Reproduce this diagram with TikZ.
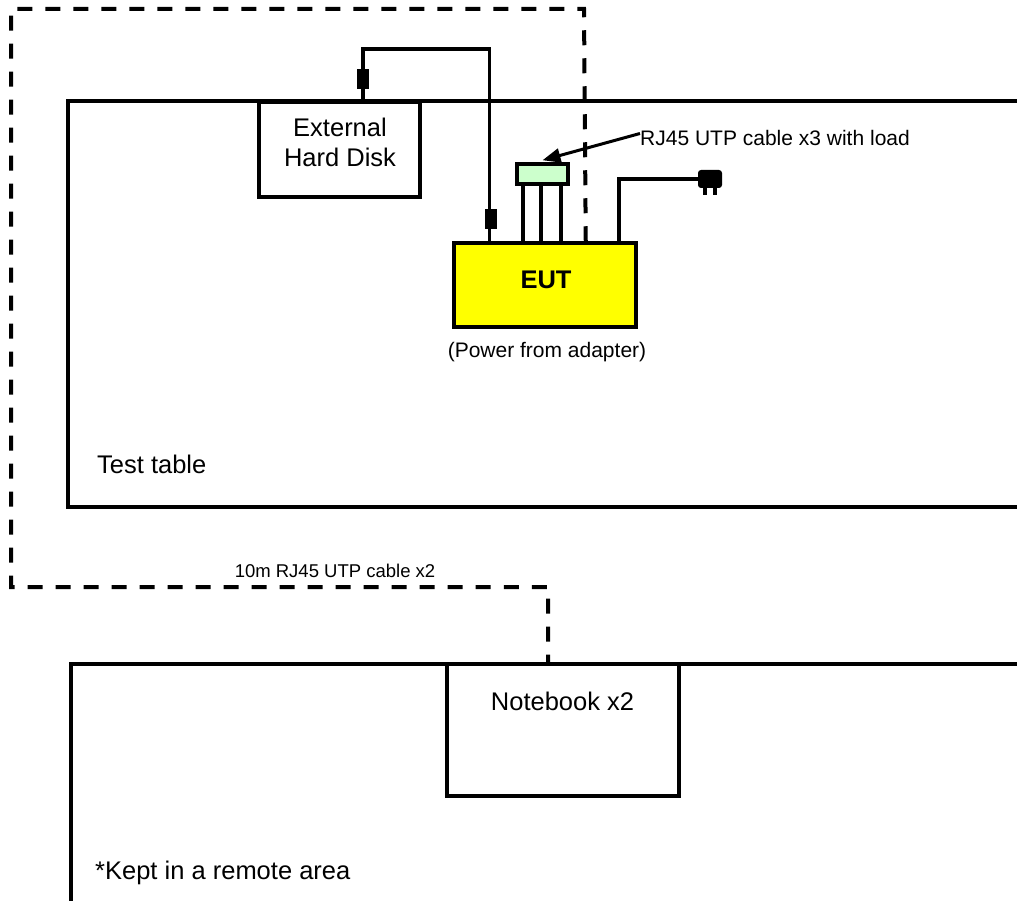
\documentclass[tikz,border=0pt]{standalone}
\usepackage{fontspec}
\setmainfont{Liberation Sans}
\usetikzlibrary{arrows.meta, positioning}
\definecolor{eutyellow}{HTML}{FFFF00}
\definecolor{loadgreen}{HTML}{CCFFCC}
\newcommand{\bigtxt}{\fontsize{25.5}{30}\selectfont}
\newcommand{\midtxt}{\fontsize{21}{25}\selectfont}
\newcommand{\lowtxt}{\fontsize{18.5}{22}\selectfont}
\tikzset{
	devbox/.style={draw, line width=3.5pt, inner sep=0pt}
}
\tikzset{
	cable/.style={line width=3.5pt},
	dashcable/.style={line width=4pt, dash pattern=on 15pt off 13pt},
	blk/.style={fill=black, inner sep=0pt, minimum width=12, minimum height=20},
	lbl/.style={inner sep=0pt, anchor=base}
}

\begin{document}
\begin{tikzpicture}[x=1pt, y=-1pt]
  \useasboundingbox (0,0) rectangle (1017,901);
  \draw[cable] (1020,101) -| (68,507) -- (1020,507);
  \draw[cable] (1020,664) -| (71,905);
  \node[devbox, minimum width=161, minimum height=95] (hdd) at (339.5,149.5) {};
  \node[devbox, fill=eutyellow, minimum width=182, minimum height=84] (eut) at (545,285) {};
  \node[devbox, fill=loadgreen, minimum width=51, minimum height=20] (load) at (542.5,174) {};
  \node[devbox, minimum width=232, minimum height=132] (nb) at (563,730) {};
  \node[fill=black, rounded corners=3pt, inner sep=0pt, minimum width=24, minimum height=18] (plug) at (710,179) {};
  \fill (703,187) rectangle (707,195);
  \fill (713,187) rectangle (717,195);
  \node[lbl, align=center, font=\bigtxt] (hddtxt) at (340,167) {External\\Hard Disk};
  \node[lbl, font=\bigtxt\bfseries] (euttxt) at (546,288) {EUT};
  \node[lbl, font=\midtxt] (pwrtxt) at (547,357) {(Power from adapter)};
  \node[lbl, anchor=base west, font=\midtxt] (rjlbl) at (640,146) {RJ45 UTP cable x3 with load};
  \node[lbl, anchor=base west, font=\bigtxt] (tbl) at (97,473) {Test table};
  \node[lbl, font=\lowtxt] (lanlbl) at (335,577) {10m RJ45 UTP cable x2};
  \node[lbl, font=\bigtxt] (nbtxt) at (562.5,710) {Notebook x2};
  \node[lbl, anchor=base west, font=\bigtxt] (remote) at (95,879) {*Kept in a remote area};
  \draw[cable] ([xshift=23.5]hdd.north) -- ++(0,-51) -| ([xshift=37]eut.north west);
  \node[blk] (blk1) at (363,79) {};
  \node[blk] (blk2) at (491,219) {};
  \foreach \x in {523,541,561}
    \draw[cable] (\x,0 |- load.south) -- (\x,0 |- eut.north);
  \draw[cable] ([xshift=-19]eut.north east) |- (plug.west);
  \draw[line width=3pt, -{Triangle[length=18pt, width=14pt]}] ([yshift=5]rjlbl.west) -- ([yshift=2]load.north);
  \draw[dashcable] ([xshift=-52]eut.north east) -- (584,9) -- (11,9) -- (11,587) -| ([xshift=-15]nb.north);
\end{tikzpicture}
\end{document}
